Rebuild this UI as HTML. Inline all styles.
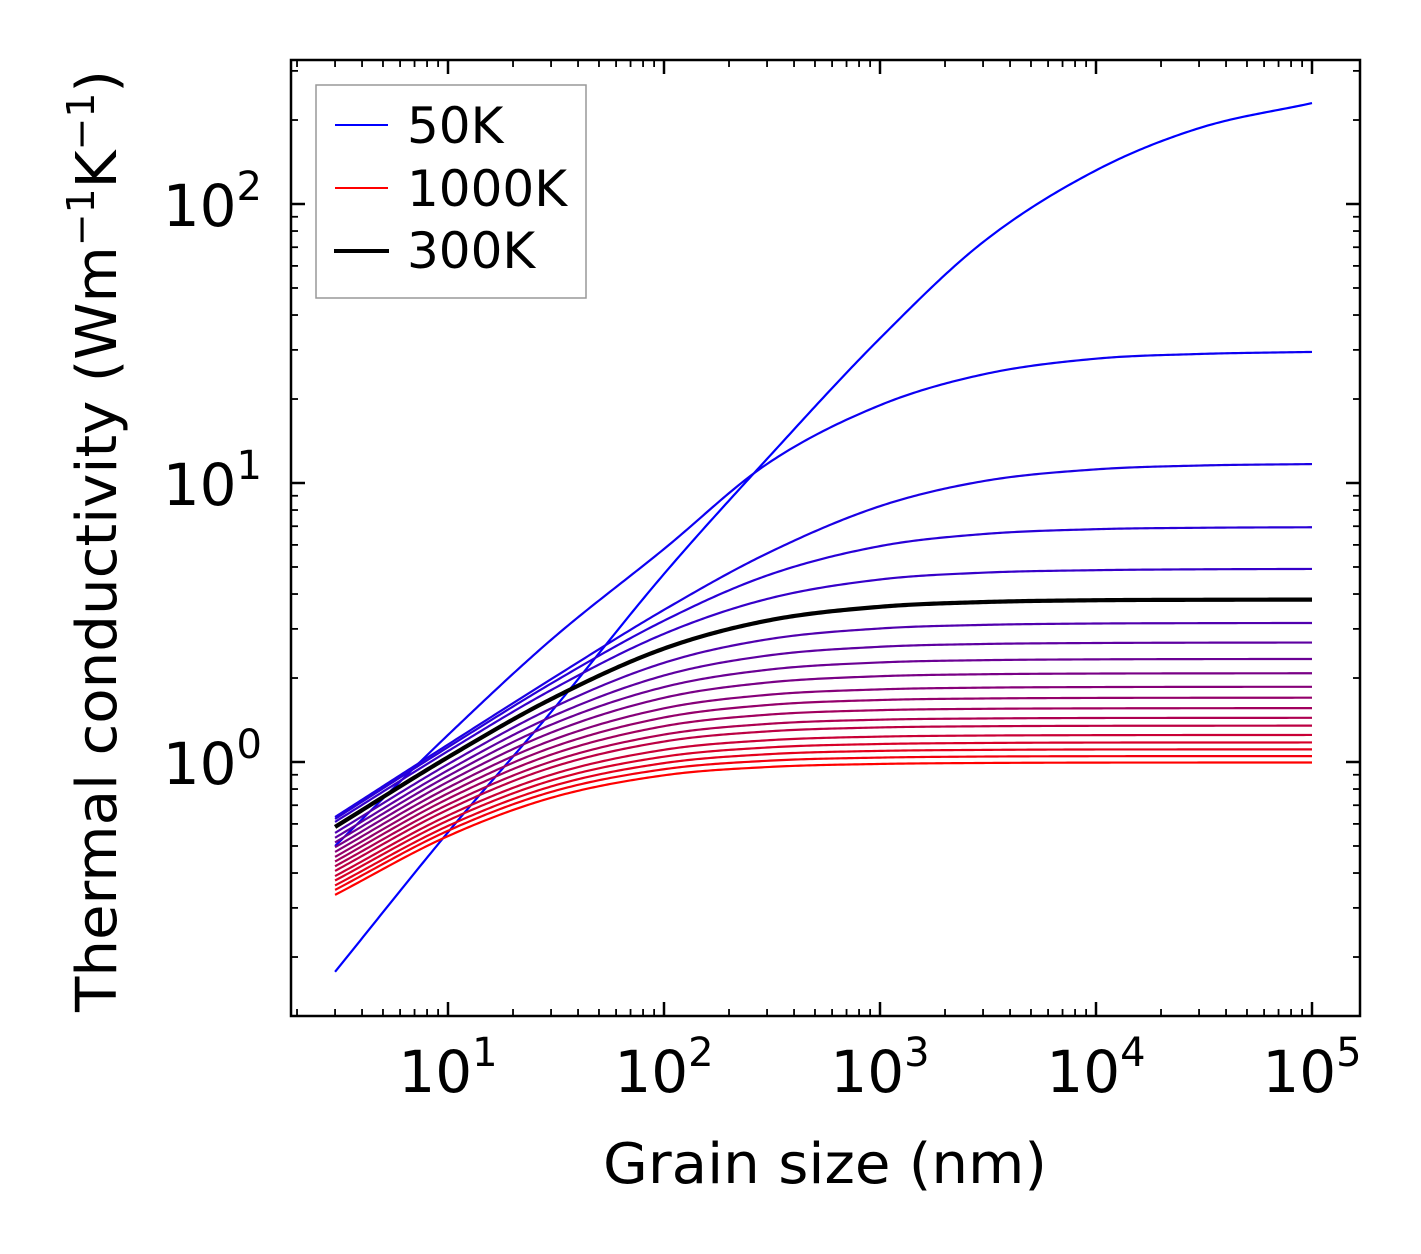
<!DOCTYPE html>
<html><head><meta charset="utf-8"><style>
html,body{margin:0;padding:0;background:#fff;}
svg{display:block;font-family:"DejaVu Sans","Liberation Sans",sans-serif;}
</style></head><body>
<svg id="chart" width="1421" height="1254" viewBox="0 0 1421 1254" xmlns="http://www.w3.org/2000/svg">
<g id="curves"></g>
<g id="axes"></g>
<rect x="291" y="60" width="1069" height="956" fill="none" stroke="#000" stroke-width="2.5"/>
<g>
<rect x="316" y="85" width="270" height="213" fill="#fff" stroke="#999" stroke-width="1.5"/>
<line x1="335" y1="125" x2="388" y2="125" stroke="rgb(0,0,255)" stroke-width="2"/>
<text x="407" y="143" font-size="50">50K</text>
<line x1="335" y1="188" x2="388" y2="188" stroke="rgb(255,0,0)" stroke-width="2"/>
<text x="407" y="206" font-size="50">1000K</text>
<line x1="334" y1="251" x2="389" y2="251" stroke="#000" stroke-width="4"/>
<text x="407" y="268" font-size="50">300K</text>
</g>
<text x="825" y="1183" font-size="56" text-anchor="middle" textLength="444" lengthAdjust="spacingAndGlyphs">Grain size (nm)</text>
<text transform="translate(116,541) rotate(-90)" font-size="56" text-anchor="middle" textLength="942" lengthAdjust="spacingAndGlyphs">Thermal conductivity (Wm<tspan font-size="38" dy="-22">−1</tspan><tspan dy="22">K</tspan><tspan font-size="38" dy="-22">−1</tspan><tspan dy="22">)</tspan></text>
</svg>
<script>
const grainSizes = [3, 10, 30, 100, 300, 1000, 3000, 10000, 30000, 100000];
const temperatures = [50,100,150,200,250,300,350,400,450,500,550,600,650,700,750,800,850,900,950,1000];
const k50 = [0.177,0.56,1.51,4.72,12.2,33,73,132,187,230];
const k100 = [0.50,1.25,2.74,5.8,11.7,19,24.5,27.9,29.0,29.5];
const k150 = [0.635,1.155,1.98,3.51,5.59,8.26,10.15,11.19,11.55,11.69];
const k200 = [0.625,1.13,1.91,3.21,4.66,5.94,6.56,6.83,6.91,6.94];
const k250 = [0.61,1.094,1.81,2.88,3.84,4.51,4.77,4.87,4.905,4.92];
const k300 = [0.585,1.04,1.68,2.55,3.21,3.60,3.743,3.80,3.814,3.82];
const k350 = [0.557,0.982,1.556,2.268,2.75,3.01,3.10,3.136,3.145,3.15];
const k400 = [0.535,0.934,1.451,2.042,2.406,2.588,2.648,2.67,2.677,2.68];
const k450 = [0.515,0.891,1.36,1.856,2.14,2.274,2.317,2.333,2.338,2.34];
const k500 = [0.495,0.849,1.274,1.699,1.926,2.03,2.063,2.075,2.078,2.08];
const k550 = [0.476,0.809,1.194,1.557,1.74,1.821,1.847,1.856,1.859,1.86];
const k600 = [0.457,0.772,1.125,1.444,1.60,1.668,1.689,1.697,1.699,1.70];
const k650 = [0.44,0.738,1.062,1.344,1.477,1.534,1.551,1.557,1.559,1.56];
const k700 = [0.423,0.704,1.003,1.254,1.369,1.418,1.432,1.438,1.439,1.44];
const k750 = [0.407,0.675,0.955,1.184,1.287,1.33,1.343,1.348,1.349,1.35];
const k800 = [0.39,0.643,0.90,1.106,1.196,1.233,1.244,1.248,1.2494,1.25];
const k850 = [0.376,0.617,0.858,1.045,1.127,1.16,1.17,1.174,1.1745,1.175];
const k900 = [0.361,0.59,0.817,0.991,1.066,1.096,1.105,1.109,1.1095,1.11];
const k950 = [0.348,0.567,0.781,0.942,1.01,1.037,1.046,1.049,1.0496,1.05];
const k1000 = [0.334,0.5425,0.744,0.896,0.959,0.984,0.992,0.995,0.9956,0.996];
const seriesList = [k50,k100,k150,k200,k250,k300,k350,k400,k450,k500,k550,k600,k650,k700,k750,k800,k850,k900,k950,k1000];
const xTickLabels = ["1","2","3","4","5"];
const yTickLabels = ["0","1","2"];

const NS = "http://www.w3.org/2000/svg";
const X0=448, XD=216, Y0=762, YD=279;
function xScale(v){return X0 + (Math.log10(v)-1)*XD;}
function yScale(v){return Y0 - Math.log10(v)*YD;}
const xMin=Math.pow(10,1-(X0-291)/XD), xMax=Math.pow(10,1+(1360-X0)/XD);
const yMin=Math.pow(10,-(1016-Y0)/YD), yMax=Math.pow(10,(Y0-60)/YD);

function monoPath(xs, ys){
  const n=xs.length, lx=xs.map(Math.log10), ly=ys.map(Math.log10);
  const d=[], m=[];
  for(let i=0;i<n-1;i++) d.push((ly[i+1]-ly[i])/(lx[i+1]-lx[i]));
  m[0]=d[0]; m[n-1]=d[n-2];
  for(let i=1;i<n-1;i++){ m[i]= (d[i-1]*d[i]<=0)?0:(d[i-1]+d[i])/2; }
  for(let i=0;i<n-1;i++){ if(d[i]===0){m[i]=m[i+1]=0;continue;} const a=m[i]/d[i],b=m[i+1]/d[i],s=a*a+b*b; if(s>9){const t=3/Math.sqrt(s);m[i]=t*a*d[i];m[i+1]=t*b*d[i];} }
  let p="";
  for(let i=0;i<n-1;i++){
    const h=lx[i+1]-lx[i];
    for(let j=0;j<=40;j++){
      if(i>0&&j===0) continue;
      const t=j/40, t2=t*t, t3=t2*t;
      const v=(2*t3-3*t2+1)*ly[i]+(t3-2*t2+t)*h*m[i]+(-2*t3+3*t2)*ly[i+1]+(t3-t2)*h*m[i+1];
      const lxv=lx[i]+t*h;
      const px=X0+(lxv-1)*XD, py=Y0-v*YD;
      p+=(p?"L":"M")+px.toFixed(2)+","+py.toFixed(2);
    }
  }
  return p;
}
const curves=document.getElementById("curves");
const order=[];
seriesList.forEach((s,i)=>{ if(temperatures[i]!==300) order.push(i); });
order.push(seriesList.findIndex((s,i)=>temperatures[i]===300));
order.forEach(i=>{
  const T=temperatures[i];
  const t=i/(seriesList.length-1);
  const el=document.createElementNS(NS,"path");
  el.setAttribute("d",monoPath(grainSizes,seriesList[i]));
  el.setAttribute("fill","none");
  el.setAttribute("stroke", T===300?"#000":"rgb("+Math.round(255*t)+",0,"+Math.round(255*(1-t))+")");
  el.setAttribute("stroke-width", T===300?"4.2":"2.2");
  
  
  curves.appendChild(el);
});

const axes=document.getElementById("axes");
function line(x1,y1,x2,y2,w,name){
  const l=document.createElementNS(NS,"line");
  l.setAttribute("x1",x1);l.setAttribute("y1",y1);l.setAttribute("x2",x2);l.setAttribute("y2",y2);
  l.setAttribute("stroke","#000");l.setAttribute("stroke-width",w);
  
  
  axes.appendChild(l);
}
for(let e=0;e<=5;e++){
  for(let k=1;k<10;k++){
    const v=k*Math.pow(10,e);
    if(v<xMin||v>xMax) continue;
    const x=xScale(v), L=(k===1)?14:7, w=(k===1)?2.5:1.8;
    line(x,1016,x,1016-L,w,'x-tick');
    line(x,60,x,60+L,w,'x-tick-top');
  }
}
for(let e=-1;e<=2;e++){
  for(let k=1;k<10;k++){
    const v=k*Math.pow(10,e);
    if(v<yMin||v>yMax) continue;
    const y=yScale(v), L=(k===1)?14:7, w=(k===1)?2.5:1.8;
    line(291,y,291+L,y,w,'y-tick');
    line(1360,y,1360-L,y,w,'y-tick-right');
  }
}
xTickLabels.forEach(lbl=>{
  const x=xScale(Math.pow(10,+lbl));
  const t=document.createElementNS(NS,"text");
  t.setAttribute("x",x);t.setAttribute("y",1092);t.setAttribute("font-size","58");t.setAttribute("text-anchor","middle");
  t.innerHTML='10<tspan font-size="40" dy="-26">'+lbl+'</tspan>';
  
  
  axes.appendChild(t);
});
yTickLabels.forEach(lbl=>{
  const y=yScale(Math.pow(10,+lbl));
  const t=document.createElementNS(NS,"text");
  t.setAttribute("x",262);t.setAttribute("y",y+22);t.setAttribute("font-size","58");t.setAttribute("text-anchor","end");
  t.innerHTML='10<tspan font-size="40" dy="-26">'+lbl+'</tspan>';
  
  
  axes.appendChild(t);
});
</script>
</body></html>
